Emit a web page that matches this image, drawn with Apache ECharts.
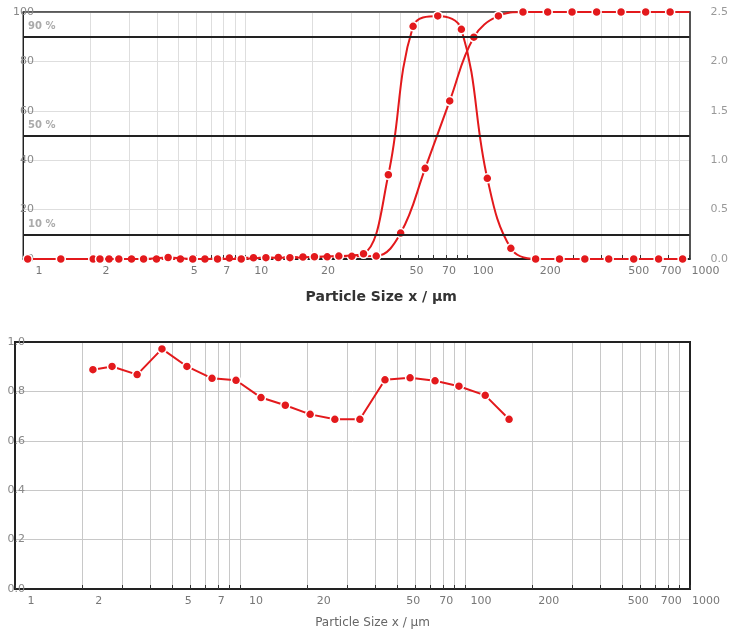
<!DOCTYPE html>
<html>
<head>
<meta charset="utf-8">
<script src="https://cdn.jsdelivr.net/npm/echarts@6/dist/echarts.min.js"></script>
<style>
  html, body { margin: 0; padding: 0; background: #fff; }
  #chart { width: 731px; height: 630px; }
</style>
</head>
<body>
<div id="chart"></div>
<script>
// cumulative distribution Q3 (%), plotted at upper class bounds
const cumSizes = [1.05, 1.48, 2.07, 2.44, 3.08, 3.99, 5.11, 6.59, 8.49, 10.9, 14.1, 18.2, 23.4, 30.2, 38.9,
  50.1, 64.6, 83.3, 107, 138, 178, 230, 296, 382, 492, 635, 818, 1000];
const cumValues = [0, 0, 0, 0, 0, 0, 0, 0, 0.4, 0.5, 0.6, 0.8, 0.9, 1.1, 1.2,
  10.5, 36.7, 64, 89.8, 98.4, 100, 100, 100, 100, 100, 100, 100, 100];

// density distribution q3 (right axis), plotted at class means
const densitySizes = [2.22, 2.70, 3.49, 4.50, 5.81, 7.51, 9.60, 12.4, 15.9, 20.5, 26.4, 34.1, 44.1,
  57.0, 73.6, 94.0, 123, 157, 203, 260, 338, 433, 561, 726, 931];
const densityValues = [0, 0, 0, 0.015, 0, 0, 0, 0.013, 0.013, 0.023, 0.03, 0.053, 0.853,
  2.355, 2.46, 2.325, 0.817, 0.108, 0, 0, 0, 0, 0, 0, 0];

// lower chart
const ratioSizes = densitySizes.slice(0, 18);
const ratioValues = [0.888, 0.901, 0.868, 0.972, 0.901, 0.853, 0.845, 0.775, 0.744, 0.707, 0.687, 0.687,
  0.847, 0.855, 0.843, 0.821, 0.784, 0.687];

const thresholds = [10, 50, 90];
const xLabelValues = [1, 2, 5, 7, 10, 20, 50, 70, 100, 200, 500, 700, 1000];
const xTickValues = [1, 2, 3, 4, 5, 6, 7, 8, 9, 10, 20, 30, 40, 50, 60, 70, 80, 90,
  100, 200, 300, 400, 500, 600, 700, 800, 900, 1000];

const RED = "#e3191c";
const FONT = "DejaVu Sans";

const chart = echarts.init(document.getElementById("chart"));

function pts(xs, ys) {
  return xs.map((x, i) => [x, ys[i]]);
}

function sizeAxis(gridIndex, gridColor, title) {
  return {
    type: "log",
    logBase: 10,
    gridIndex: gridIndex,
    min: 1,
    max: 1000,
    name: "Particle Size x / µm",
    nameLocation: "middle",
    nameGap: title.gap,
    nameTextStyle: title.style,
    axisLine: { show: true, lineStyle: { color: "#222", width: 2 } },
    axisTick: {
      show: true,
      inside: true,
      length: 4,
      customValues: xTickValues,
      lineStyle: { color: "#333" },
    },
    axisLabel: {
      customValues: xLabelValues,
      formatter: (v) => String(Math.round(v)),
      color: "#777",
      fontSize: 11,
      fontFamily: FONT,
      margin: 7,
      padding: [0, 0, 0, 32],
    },
    splitLine: { show: true, lineStyle: { color: gridColor, width: 1 } },
    minorTick: { show: false },
  };
}

// plain frame edges drawn above the split lines
function frameAxis(gridIndex, position, color, width) {
  return {
    type: "value",
    gridIndex: gridIndex,
    position: position,
    min: 0,
    max: 1,
    axisLine: { show: true, onZero: false, lineStyle: { color: color, width: width } },
    axisTick: { show: false },
    axisLabel: { show: false },
    splitLine: { show: false },
  };
}

chart.setOption({
  animation: false,
  textStyle: { fontFamily: FONT },
  grid: [
    { left: 23, right: 41, top: 12, height: 247, show: true, borderColor: "#333", borderWidth: 1 },
    { left: 15, right: 41, top: 342, height: 250, show: true, borderColor: "#222", borderWidth: 2 },
  ],
  xAxis: [
    sizeAxis(0, "#dedede", {
      gap: 31,
      style: { fontSize: 14, fontWeight: "bold", color: "#333", fontFamily: FONT, padding: [0, 0, 0, 50] },
    }),
    sizeAxis(1, "#c8c8c8", {
      gap: 28,
      style: { fontSize: 12, color: "#666", fontFamily: FONT, padding: [0, 0, 0, 40] },
    }),
    frameAxis(0, "top", "#444", 1.5),
    frameAxis(1, "top", "#222", 2),
  ],
  yAxis: [
    {
      type: "value",
      gridIndex: 0,
      min: 0,
      max: 100,
      interval: 20,
      axisLine: { show: true, lineStyle: { color: "#222", width: 1 } },
      axisTick: { show: false },
      axisLabel: { color: "#888", fontSize: 11, margin: -11 },
      splitLine: { show: true, lineStyle: { color: "#dedede" } },
    },
    {
      type: "value",
      gridIndex: 0,
      position: "right",
      min: 0,
      max: 2.5,
      interval: 0.5,
      axisLine: { show: true, lineStyle: { color: "#555", width: 2 } },
      axisTick: { show: false },
      axisLabel: { color: "#999", fontSize: 11, margin: 21, formatter: (v) => v.toFixed(1) },
      splitLine: { show: false },
    },
    {
      type: "value",
      gridIndex: 1,
      min: 0,
      max: 1,
      interval: 0.2,
      axisLine: { show: true, lineStyle: { color: "#222", width: 2 } },
      axisTick: { show: false },
      axisLabel: { color: "#888", fontSize: 11, margin: -10, formatter: (v) => v.toFixed(1) },
      splitLine: { show: true, lineStyle: { color: "#c8c8c8" } },
    },
    frameAxis(1, "right", "#222", 2),
  ],
  series: [
    {
      name: "Q3",
      type: "line",
      xAxisIndex: 0,
      yAxisIndex: 0,
      smooth: 0.4,
      symbol: "circle",
      symbolSize: 9,
      lineStyle: { color: RED, width: 2 },
      itemStyle: { color: RED, borderColor: "#fff", borderWidth: 1.5 },
      data: pts(cumSizes, cumValues).map((p, i) =>
        i === cumSizes.length - 1 ? { value: p, symbol: "none" } : p
      ),
      markLine: {
        silent: true,
        symbol: "none",
        lineStyle: { color: "#222", width: 2, type: "solid" },
        label: {
          position: "insideStartTop",
          formatter: (p) => p.value + " %",
          color: "#aaa",
          fontWeight: "bold",
          fontSize: 10,
          fontFamily: FONT,
        },
        data: thresholds.map((t) => ({ yAxis: t })),
      },
      z: 3,
    },
    {
      name: "q3",
      type: "line",
      xAxisIndex: 0,
      yAxisIndex: 1,
      smooth: 0.4,
      symbol: "circle",
      symbolSize: 9,
      lineStyle: { color: RED, width: 2 },
      itemStyle: { color: RED, borderColor: "#fff", borderWidth: 1.5 },
      data: pts(densitySizes, densityValues),
      z: 4,
    },
    {
      name: "ratio",
      type: "line",
      xAxisIndex: 1,
      yAxisIndex: 2,
      symbol: "circle",
      symbolSize: 9,
      lineStyle: { color: RED, width: 2 },
      itemStyle: { color: RED, borderColor: "#fff", borderWidth: 1.5 },
      data: pts(ratioSizes, ratioValues),
    },
  ],
});
</script>
</body>
</html>
